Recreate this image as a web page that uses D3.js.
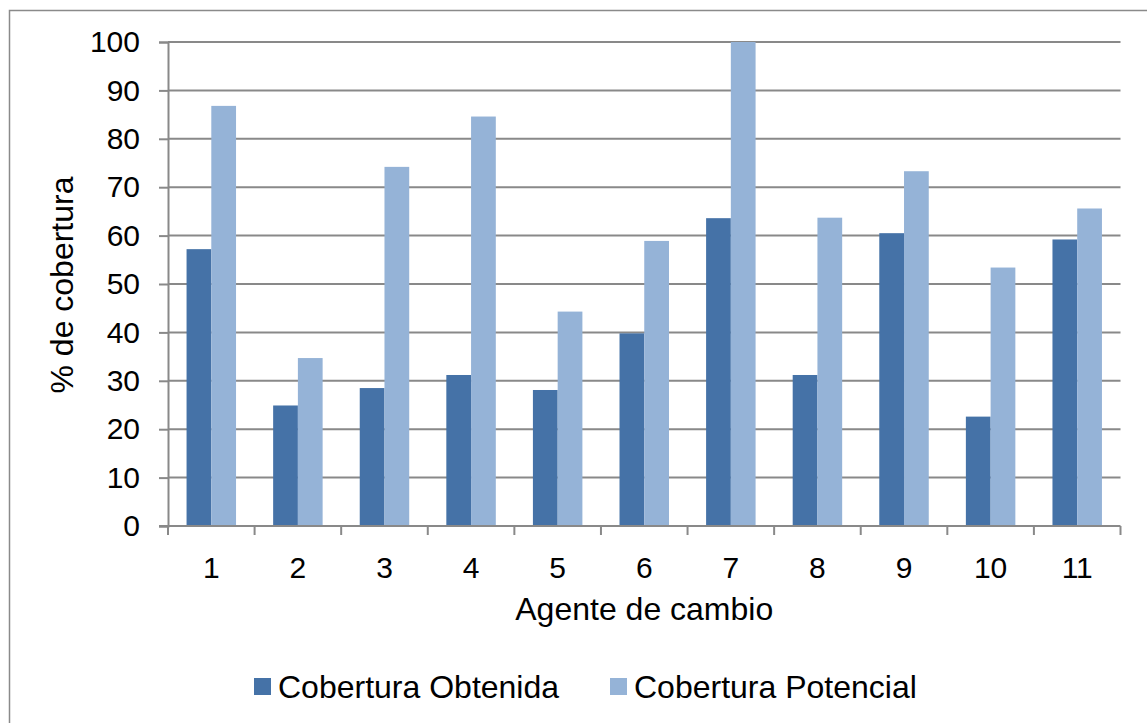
<!DOCTYPE html>
<html>
<head>
<meta charset="utf-8">
<script src="https://cdn.jsdelivr.net/npm/d3@7"></script>
<style>
  html, body { margin: 0; padding: 0; background: #fff; }
  svg { display: block; font-family: "Liberation Sans", Arial, sans-serif; }
</style>
</head>
<body>
<svg id="chart" width="1147" height="723"></svg>
<script>
// Coverage per change agent
const categories = ["1", "2", "3", "4", "5", "6", "7", "8", "9", "10", "11"];
const obtenida = [57.2, 24.9, 28.5, 31.2, 28.1, 39.8, 63.6, 31.2, 60.5, 22.6, 59.2];
const potencial = [86.8, 34.7, 74.2, 84.6, 44.3, 58.9, 100, 63.7, 73.3, 53.4, 65.6];
const seriesNames = ["Cobertura Obtenida", "Cobertura Potencial"];
const seriesColors = ["#4572A7", "#95B3D7"];
const yTicks = [0, 10, 20, 30, 40, 50, 60, 70, 80, 90, 100];

const svg = d3.select("#chart");
const W = 1147, H = 723;
const plot = { left: 168, right: 1120.5, top: 42, bottom: 526 };
const tickFont = 30;
const textFont = 32;
const gridColor = "#898989";

// outer chart frame (only top/left visible within the canvas)
svg.append("rect")
  .attr("x", 9.5).attr("y", 10.5)
  .attr("width", W + 20).attr("height", H + 20)
  .attr("fill", "#fff").attr("stroke", "#8a8a8a").attr("stroke-width", 1.5);

const x = d3.scaleBand()
  .domain(categories)
  .range([plot.left, plot.right])
  .paddingInner(1.5 / 3.5)
  .paddingOuter(0.75 / 3.5);

const xSeries = d3.scaleBand()
  .domain(seriesNames)
  .range([0, x.bandwidth()]);

const y = d3.scaleLinear().domain([0, 100]).range([plot.bottom, plot.top]);

// horizontal gridlines
svg.append("g")
  .selectAll("line")
  .data(yTicks.filter(t => t > 0))
  .join("line")
  .attr("x1", plot.left).attr("x2", plot.right)
  .attr("y1", d => y(d)).attr("y2", d => y(d))
  .attr("stroke", gridColor).attr("stroke-width", 2);

// bars
const rows = categories.map((c, i) => ({ cat: c, vals: [obtenida[i], potencial[i]] }));
const groups = svg.append("g")
  .selectAll("g")
  .data(rows)
  .join("g")
  .attr("transform", d => `translate(${x(d.cat)},0)`);

groups.selectAll("rect")
  .data(d => d.vals.map((v, k) => ({ v, k })))
  .join("rect")
  .attr("x", d => xSeries(seriesNames[d.k]))
  .attr("width", xSeries.bandwidth())
  .attr("y", d => y(d.v))
  .attr("height", d => y(0) - y(d.v))
  .attr("fill", d => seriesColors[d.k]);

// y axis
const yAxis = svg.append("g")
  .attr("transform", `translate(${plot.left},0)`)
  .call(d3.axisLeft(y).tickValues(yTicks).tickSize(9).tickPadding(19).tickFormat(d3.format("d")));
yAxis.select(".domain").attr("stroke", gridColor).attr("stroke-width", 2);
yAxis.selectAll(".tick line").attr("stroke", gridColor).attr("stroke-width", 2);
yAxis.selectAll(".tick text")
  .attr("font-size", tickFont).attr("fill", "#000")
  .attr("font-family", "Liberation Sans, Arial, sans-serif");

// x axis: ticks between categories
const xAxis = svg.append("g");
xAxis.append("line")
  .attr("x1", plot.left - 9).attr("x2", plot.right)
  .attr("y1", plot.bottom).attr("y2", plot.bottom)
  .attr("stroke", gridColor).attr("stroke-width", 2);
const boundaries = categories.map(c => x(c) - x.step() * x.paddingInner() / 2)
  .concat([plot.right]);
xAxis.selectAll("line.tk")
  .data(boundaries)
  .join("line")
  .attr("class", "tk")
  .attr("x1", d => d).attr("x2", d => d)
  .attr("y1", plot.bottom).attr("y2", plot.bottom + 9)
  .attr("stroke", gridColor).attr("stroke-width", 2);
xAxis.selectAll("text")
  .data(categories)
  .join("text")
  .attr("x", d => x(d) + x.bandwidth() / 2)
  .attr("y", 578)
  .attr("text-anchor", "middle")
  .attr("font-size", tickFont)
  .text(d => d);

// axis titles
svg.append("text")
  .attr("x", (plot.left + plot.right) / 2).attr("y", 620)
  .attr("text-anchor", "middle").attr("font-size", textFont)
  .text("Agente de cambio");
svg.append("text")
  .attr("transform", "translate(73,285) rotate(-90)")
  .attr("text-anchor", "middle").attr("font-size", textFont)
  .text("% de cobertura");

// legend
const legendX = [254, 610];
const legend = svg.append("g")
  .selectAll("g")
  .data(seriesNames)
  .join("g")
  .attr("transform", (d, i) => `translate(${legendX[i]},678)`);
legend.append("rect")
  .attr("width", 17).attr("height", 17)
  .attr("fill", (d, i) => seriesColors[i]);
legend.append("text")
  .attr("x", 24).attr("y", 20)
  .attr("font-size", textFont)
  .text(d => d);
</script>
</body>
</html>
